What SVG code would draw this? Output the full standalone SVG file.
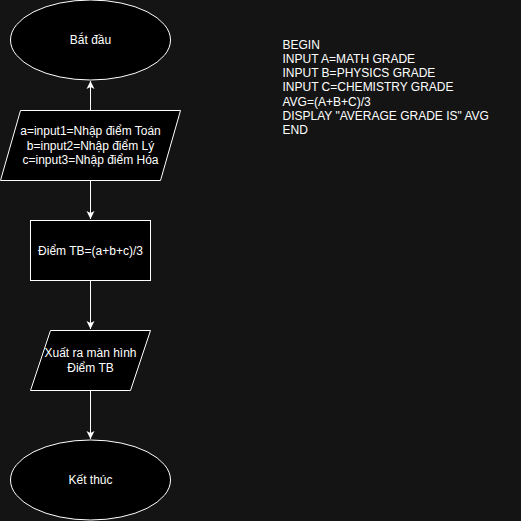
<svg xmlns="http://www.w3.org/2000/svg" width="521" height="521" viewBox="0 0 521 521">
<style>
.shape{fill:#000000;stroke:#ffffff;stroke-width:1}
.lbl{font-family:"Liberation Sans",Arial,sans-serif;font-size:12px;fill:#ffffff;text-anchor:middle}
.code{font-family:"Liberation Sans",Arial,sans-serif;font-size:12px;fill:#ffffff}
.edge{stroke:#ffffff;stroke-width:1;fill:none}
</style>
<defs>
<marker id="arrow" markerUnits="userSpaceOnUse" viewBox="-9 -5 10 10" markerWidth="10" markerHeight="10" refX="0" refY="0" orient="auto">
<path d="M0,0 L-8,-4 L-6,0 L-8,4 Z" fill="#ffffff"/>
</marker>
</defs>
<rect x="0" y="0" width="521" height="521" fill="#141414"/>
<g id="connectors">
<line class="edge" x1="90.5" y1="110" x2="90.5" y2="81" marker-end="url(#arrow)"/>
<line class="edge" x1="90.5" y1="180" x2="90.5" y2="219" marker-end="url(#arrow)"/>
<line class="edge" x1="90.5" y1="280" x2="90.5" y2="329" marker-end="url(#arrow)"/>
<line class="edge" x1="90.5" y1="390" x2="90.5" y2="439" marker-end="url(#arrow)"/>
</g>
<g id="start">
<ellipse class="shape" cx="90.5" cy="40" rx="80" ry="40"/>
<text class="lbl" x="90.5" y="44">Bắt đầu</text>
</g>
<g id="input">
<polygon class="shape" points="20.5,110.5 180.5,110.5 160.5,180.5 0.5,180.5"/>
<text class="lbl" x="90.5" y="135">a=input1=Nhập điểm Toán</text>
<text class="lbl" x="90.5" y="149.5">b=input2=Nhập điểm Lý</text>
<text class="lbl" x="90.5" y="164">c=input3=Nhập điểm Hóa</text>
</g>
<g id="compute">
<rect class="shape" x="30.5" y="220.5" width="120" height="60"/>
<text class="lbl" x="90.5" y="254.5">Điểm TB=(a+b+c)/3</text>
</g>
<g id="output">
<polygon class="shape" points="50.5,330.5 150.5,330.5 130.5,390.5 30.5,390.5"/>
<text class="lbl" x="90.5" y="357">Xuất ra màn hình</text>
<text class="lbl" x="90.5" y="372">Điểm TB</text>
</g>
<g id="end">
<ellipse class="shape" cx="90.5" cy="480" rx="80" ry="40"/>
<text class="lbl" x="90.5" y="484">Kết thúc</text>
</g>
<g id="pseudocode">
<text class="code" x="282.5" y="48.5">BEGIN</text>
<text class="code" x="282.5" y="62.8">INPUT A=MATH GRADE</text>
<text class="code" x="282.5" y="77.1">INPUT B=PHYSICS GRADE</text>
<text class="code" x="282.5" y="91.4">INPUT C=CHEMISTRY GRADE</text>
<text class="code" x="282.5" y="105.7">AVG=(A+B+C)/3</text>
<text class="code" x="282.5" y="120">DISPLAY "AVERAGE GRADE IS" AVG</text>
<text class="code" x="282.5" y="134.3">END</text>
</g>
</svg>
